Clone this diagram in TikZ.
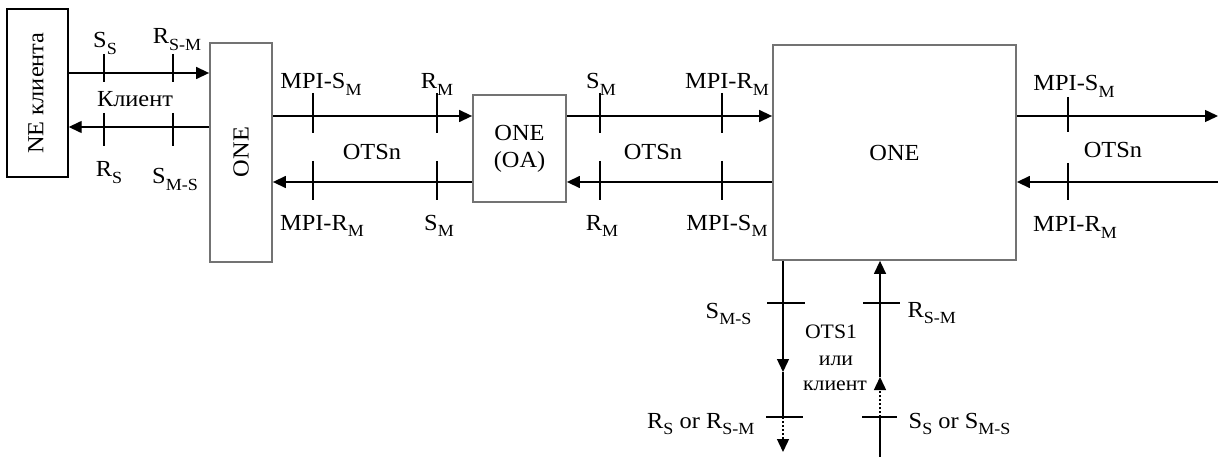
\documentclass[tikz,border=0pt]{standalone}
\usepackage{fontspec}
\setmainfont{Liberation Serif}[FakeStretch=1.06]
\usetikzlibrary{arrows.meta}
\newcommand{\lsub}[1]{\raisebox{-0.27em}{\fontsize{17}{17}\selectfont #1}}
\begin{document}
\begin{tikzpicture}[x=1pt,y=-1pt,
  line width=1.4pt,
  arr/.style={-{Triangle[length=13pt,width=12pt]}},
  dotline/.style={dash pattern=on 2pt off 2pt},
  lbl/.style={inner sep=0pt,anchor=base},
  onebox/.style={draw=black!55, line width=1.8pt, inner sep=0pt, fill=white},
  nebox/.style={draw=black, line width=1.4pt, inner sep=0pt},
  font=\fontsize{23}{27}\selectfont]
\useasboundingbox (0,0) rectangle (1218,457);

% boxes
\node[nebox, minimum width=61pt, minimum height=168pt] (ne) at (37.5,93) {};
\node[rotate=90, inner sep=0pt] (netext) at (36,93) {NE клиента};
\node[onebox, minimum width=62pt, minimum height=219pt] (one1) at (241,152.5) {};
\node[rotate=90, inner sep=0pt] (one1text) at (241,152) {ONE};
\node[onebox, minimum width=93pt, minimum height=107pt, align=center] (oa) at (519.5,148.5) {ONE\\(OA)};
\node[onebox, minimum width=243pt, minimum height=215pt] (big) at (894.5,152.5) {ONE};

% client lines
\draw[arr] (ne.east |- 0,73) -- (one1.west |- 0,73);
\draw[arr] (one1.west |- 0,127) -- (ne.east |- 0,127);
% OTSn lines
\draw[arr] (one1.east |- 0,116) -- (oa.west |- 0,116);
\draw[arr] (oa.west |- 0,182) -- (one1.east |- 0,182);
\draw[arr] (oa.east |- 0,116) -- (big.west |- 0,116);
\draw[arr] (big.west |- 0,182) -- (oa.east |- 0,182);
\coordinate (rt) at (1218,116);
\coordinate (rb) at (1218,182);
\draw[arr] (big.east |- rt) -- (rt);
\draw[arr] (rb) -- (big.east |- rb);

% vertical lines
\coordinate (d1) at (783,372);
\coordinate (d2) at (783,417);
\coordinate (d3) at (783,452);
\draw[arr] (big.south -| d1) -- (d1);
\draw (d1) -- (d2);
\draw[dotline, arr] (d2) -- (d3);
\coordinate (u0) at (880,457);
\coordinate (u1) at (880,417);
\coordinate (u2) at (880,377);
\draw (u0) -- (u1);
\draw[dotline, arr] (u1) -- (u2);
\draw[arr] (u2) -- (big.south -| u2);

% ticks
\foreach \x in {104,173} {
  \draw (\x,54) -- (\x,82);
  \draw (\x,113) -- (\x,146);
}
\foreach \x in {313,437,600,722} {
  \draw (\x,93) -- (\x,133);
  \draw (\x,161) -- (\x,200);
}
\draw (1068,97) -- (1068,132);
\draw (1068,163) -- (1068,200);
\draw (767,303) -- (805,303);
\draw (766,417) -- (803,417);
\draw (863,303) -- (900,303);
\draw (862,417) -- (897,417);

% labels
\node[lbl] (l1) at (105,48) {S\lsub{S}};
\node[lbl] (l2) at (177,44) {R\lsub{S-M}};
\node[lbl] (l3) at (135,107) {Клиент};
\node[lbl] (l4) at (109,177) {R\lsub{S}};
\node[lbl] (l5) at (175,184) {S\lsub{M-S}};

\node[lbl] (m1) at (321,89) {MPI-S\lsub{M}};
\node[lbl] (m2) at (437,89) {R\lsub{M}};
\node[lbl] (m3) at (601,89) {S\lsub{M}};
\node[lbl] (m4) at (727,89) {MPI-R\lsub{M}};
\node[lbl] (m5) at (372,160) {OTSn};
\node[lbl] (m6) at (653,160) {OTSn};
\node[lbl] (m7) at (322,230) {MPI-R\lsub{M}};
\node[lbl] (m8) at (439,230) {S\lsub{M}};
\node[lbl] (m9) at (602,230) {R\lsub{M}};
\node[lbl] (m10) at (727,230) {MPI-S\lsub{M}};

\node[lbl] (r1) at (1074,91) {MPI-S\lsub{M}};
\node[lbl] (r2) at (1113,158) {OTSn};
\node[lbl] (r3) at (1075,232) {MPI-R\lsub{M}};

\node[lbl, anchor=base east] (b1) at (752,318) {S\lsub{M-S}};
\node[lbl, anchor=base west] (b2) at (907,317) {R\lsub{S-M}};
\node[lbl, font=\fontsize{20.5}{23}\selectfont] (b3) at (831,338) {OTS1};
\node[lbl, font=\fontsize{20.5}{23}\selectfont] (b4) at (836,365) {или};
\node[lbl, font=\fontsize{20.5}{23}\selectfont] (b5) at (835,390) {клиент};
\node[lbl, anchor=base east] (b6) at (755,428) {R\lsub{S} or R\lsub{S-M}};
\node[lbl, anchor=base west] (b7) at (908,428) {S\lsub{S} or S\lsub{M-S}};
\end{tikzpicture}
\end{document}
